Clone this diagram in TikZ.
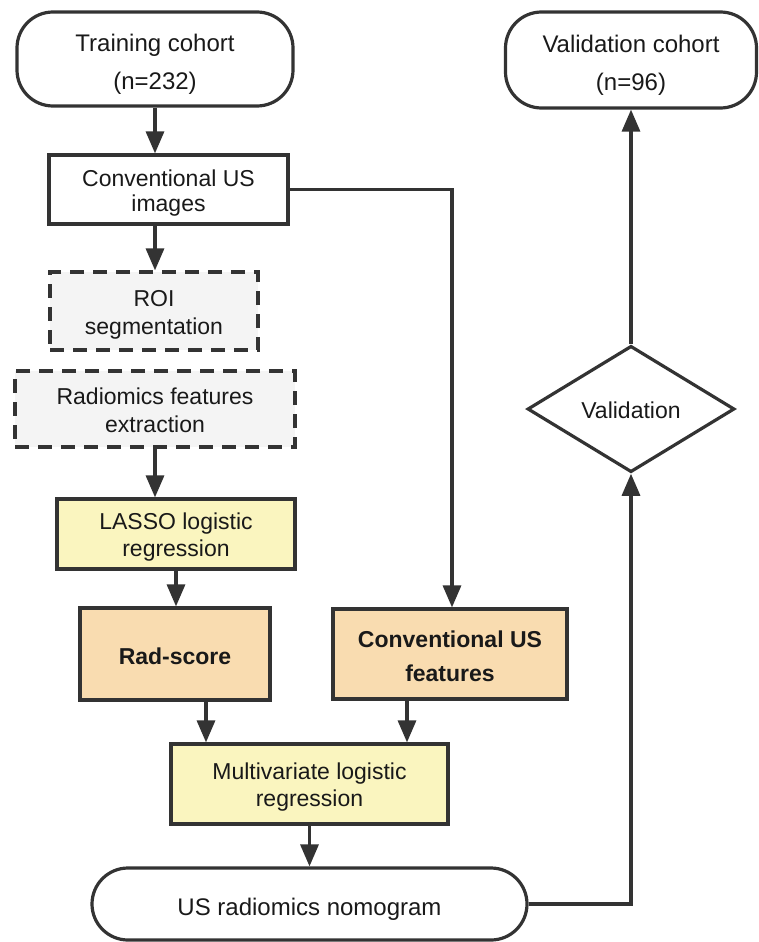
\documentclass[tikz,border=0pt]{standalone}
\usepackage{fontspec}
\setmainfont{Liberation Sans}
\usetikzlibrary{shapes.geometric,arrows.meta}
\definecolor{linec}{HTML}{333333}
\definecolor{grayfill}{HTML}{F4F4F4}
\definecolor{yellowfill}{HTML}{FAF5BF}
\definecolor{orangefill}{HTML}{F9DCB0}
\newcommand{\boxtext}[1]{\raisebox{-4pt}[\height][\depth]{\begin{tabular}{@{}c@{}}#1\end{tabular}}}
\tikzset{
  base/.style={draw=linec, line width=3.2pt, align=center, inner sep=0pt, text=black!90},
  term/.style={base, rounded corners=36pt, font=\fontsize{24}{38}\selectfont},
  plainbox/.style={base, font=\fontsize{23}{25}\selectfont},
  dashbox/.style={base, fill=grayfill, dash pattern=on 14pt off 9pt, font=\fontsize{23}{28}\selectfont},
  yellowbox/.style={base, fill=yellowfill, font=\fontsize{23}{27}\selectfont},
  orangebox/.style={base, fill=orangefill, font=\bfseries\fontsize{23}{34}\selectfont},
  decision/.style={base, diamond, font=\fontsize{23}{27}\selectfont},
  conn/.style={draw=linec, line width=3.2pt, -{Triangle[length=22pt,width=18pt]}}
}
\begin{document}
\begin{tikzpicture}[x=1pt,y=-1pt]
\useasboundingbox (0,0) rectangle (758,942);
\node[term, minimum width=276pt, minimum height=94pt] (train) at (155,59) {\boxtext{Training cohort\\(n=232)}};
\node[term, minimum width=251pt, minimum height=96pt] (vc) at (631,60) {\boxtext{Validation cohort\\(n=96)}};
\node[plainbox, minimum width=239pt, minimum height=69pt] (conv) at (168.5,189.5) {\boxtext{Conventional US\\images}};
\node[dashbox, minimum width=208pt, minimum height=78pt] (roi) at (154,311) {\boxtext{ROI\\segmentation}};
\node[dashbox, minimum width=280pt, minimum height=76pt] (radf) at (155,409) {\boxtext{Radiomics features\\extraction}};
\node[yellowbox, minimum width=238pt, minimum height=70pt] (lasso) at (176,534) {\boxtext{LASSO logistic\\regression}};
\node[orangebox, minimum width=190pt, minimum height=92pt] (rs) at (175,654) {\boxtext{Rad-score}};
\node[orangebox, minimum width=234pt, minimum height=90pt] (cf) at (450,654) {\boxtext{Conventional US\\features}};
\node[yellowbox, minimum width=277pt, minimum height=80pt] (multi) at (309.5,784) {\boxtext{Multivariate logistic\\regression}};
\node[term, minimum width=435pt, minimum height=72pt] (nomo) at (309.5,904) {\boxtext{US radiomics nomogram}};
\node[decision, minimum width=207pt, minimum height=102pt] (val) at (631,409) {\boxtext{Validation}};

\draw[conn] (train.south) -- (train.south |- conv.north);
\draw[conn] (conv.south -| train.south) -- (roi.north -| train.south);
\draw[conn] (radf.south) -- (radf.south |- lasso.north);
\draw[conn] (lasso.south) -- (lasso.south |- rs.north);
\draw[conn] ([xshift=31pt]rs.south) -- ([xshift=31pt]rs.south |- multi.north);
\draw[conn] ([xshift=-43pt]cf.south) -- ([xshift=-43pt]cf.south |- multi.north);
\draw[conn] (multi.south) -- (multi.south |- nomo.north);
\draw[conn] (conv.east) -- ([xshift=2pt]cf.north |- conv.east) -- ([xshift=2pt]cf.north);
\draw[conn] (nomo.east) -- (nomo.east -| val.south) -- (val.south);
\draw[conn] (val.north) -- (vc.south);
\end{tikzpicture}
\end{document}
